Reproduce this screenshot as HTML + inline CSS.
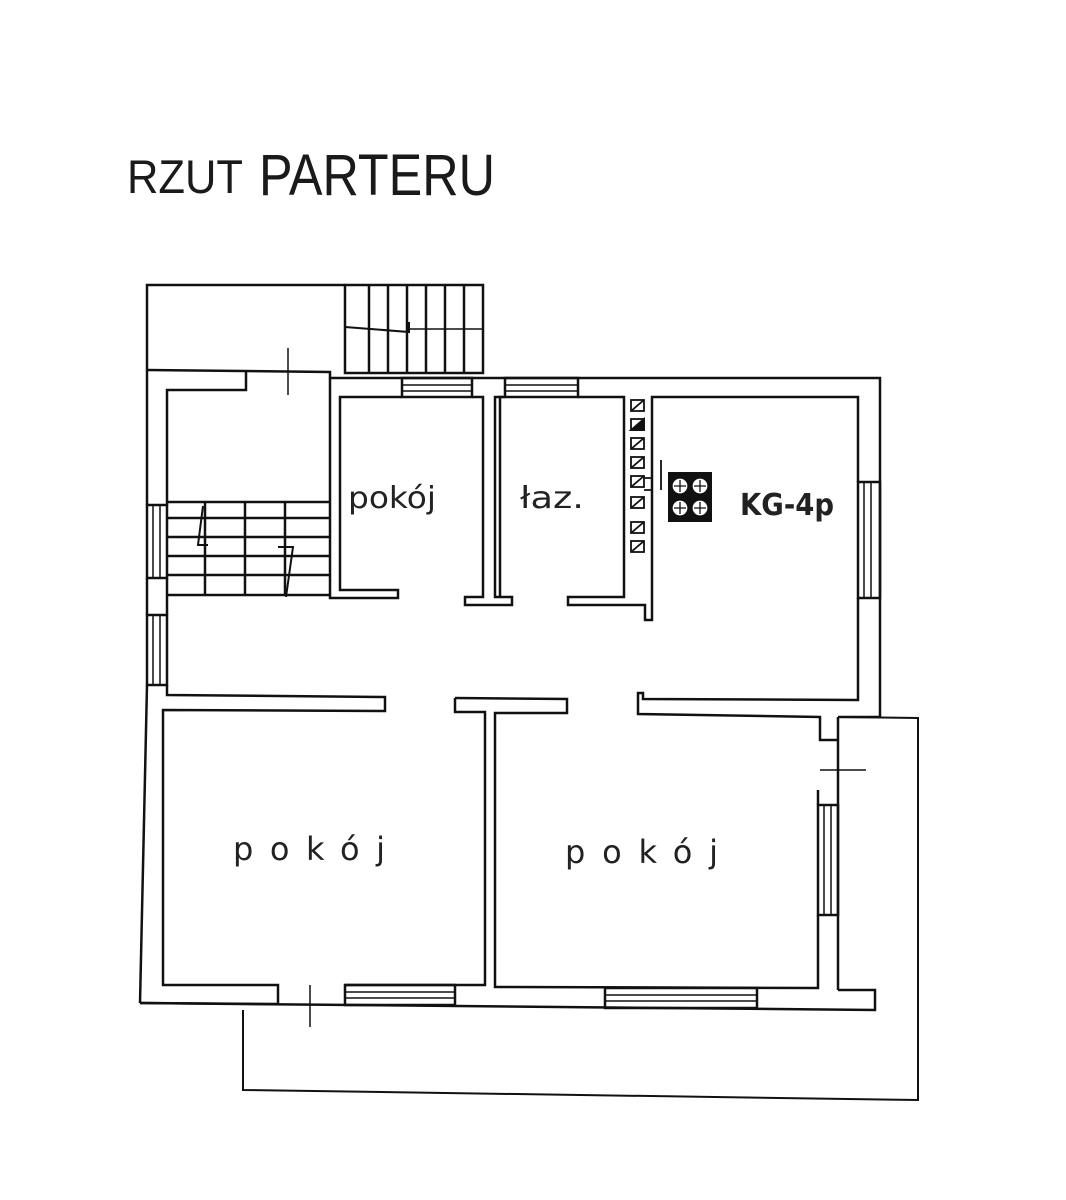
<!DOCTYPE html>
<html><head><meta charset="utf-8"><style>
html,body{margin:0;padding:0;background:#fff;}
svg{display:block}
</style></head><body>
<svg width="1066" height="1200" viewBox="0 0 1066 1200" xmlns="http://www.w3.org/2000/svg">
<rect width="1066" height="1200" fill="#fff"/>
<g font-family="Liberation Sans, sans-serif" fill="#1a1a1a">
<text x="127" y="193" font-size="47" textLength="116" lengthAdjust="spacingAndGlyphs">RZUT</text>
<text x="259" y="195" font-size="58" textLength="236" lengthAdjust="spacingAndGlyphs">PARTERU</text>
</g>
<g fill="none" stroke="#111" stroke-width="2.5" stroke-linejoin="miter">
<!-- terrace top left -->
<polyline points="147,370 147,285 345,285"/>
<!-- entrance stairs -->
<rect x="345" y="285" width="138" height="88"/>
<line x1="369" y1="285" x2="369" y2="373"/><line x1="388" y1="285" x2="388" y2="373"/>
<line x1="407" y1="285" x2="407" y2="373"/><line x1="426" y1="285" x2="426" y2="373"/>
<line x1="445" y1="285" x2="445" y2="373"/><line x1="464" y1="285" x2="464" y2="373"/>
<polyline points="345,327 409,332 409,322" stroke-width="2"/>
<line x1="409" y1="329" x2="483" y2="329" stroke-width="1.5"/>
<!-- outer walls -->
<polyline points="147,370 330,372 330,378 880,378 880,717"/>
<line x1="147" y1="370" x2="147" y2="505"/>
<line x1="147" y1="578" x2="147" y2="615"/>
<line x1="147" y1="685" x2="140" y2="1003"/>
<polyline points="140,1003 278,1004"/>
<line x1="288" y1="348" x2="288" y2="395" stroke-width="1.5"/>
<!-- hall inner -->
<polyline points="246,372 246,390 167,390 167,505"/>
<line x1="167" y1="578" x2="167" y2="615"/>
<polyline points="167,685 167,695 385,697 385,711 163,710 163,985 278,985 278,1004"/>
<!-- left windows -->
<rect x="147" y="505" width="20" height="73"/>
<line x1="153" y1="505" x2="153" y2="578" stroke-width="1.5"/><line x1="160" y1="505" x2="160" y2="578" stroke-width="1.5"/>
<rect x="147" y="615" width="20" height="70"/>
<line x1="153" y1="615" x2="153" y2="685" stroke-width="1.5"/><line x1="160" y1="615" x2="160" y2="685" stroke-width="1.5"/>
<!-- interior stair -->
<line x1="167" y1="502" x2="330" y2="502"/>
<line x1="167" y1="518" x2="330" y2="518"/><line x1="167" y1="537" x2="330" y2="537"/>
<line x1="167" y1="556" x2="330" y2="556"/><line x1="167" y1="575" x2="330" y2="575"/>
<line x1="167" y1="595" x2="330" y2="595"/>
<line x1="205" y1="502" x2="205" y2="595"/><line x1="245" y1="502" x2="245" y2="595"/><line x1="285" y1="502" x2="285" y2="595"/>
<polyline points="203,506 198,545 208,545" stroke-width="2"/>
<polyline points="278,547 293,547 286,597" stroke-width="2"/>
<!-- small pokoj -->
<polyline points="330,378 330,598 398,598 398,590 340,590 340,397 402,397"/>
<rect x="402" y="378" width="70" height="19"/>
<line x1="402" y1="385" x2="472" y2="385" stroke-width="1.5"/><line x1="402" y1="391" x2="472" y2="391" stroke-width="1.5"/>
<polyline points="472,397 483,397 483,597 465,597 465,605 512,605 512,597 495,597 495,397 503,397"/>
<rect x="505" y="378" width="73" height="19"/>
<line x1="505" y1="385" x2="578" y2="385" stroke-width="1.5"/><line x1="505" y1="391" x2="578" y2="391" stroke-width="1.5"/>
<polyline points="505,397 500,397 500,597"/>
<!-- laz right -->
<polyline points="578,397 624,397 624,597 568,597 568,605 645,605 645,620 652,620 652,397 858,397 858,482"/>
<!-- chimneys -->
<g stroke-width="1.8">
<rect x="631" y="400" width="13" height="11"/><line x1="631" y1="411" x2="644" y2="400"/>
<rect x="631" y="419" width="13" height="11"/><path d="M631,430 L644,419 L644,430 Z" fill="#111"/>
<rect x="631" y="438" width="13" height="11"/><line x1="631" y1="449" x2="644" y2="438"/>
<rect x="631" y="457" width="13" height="11"/><line x1="631" y1="468" x2="644" y2="457"/>
<rect x="631" y="476" width="13" height="11"/><line x1="631" y1="487" x2="644" y2="476"/>
<rect x="631" y="497" width="13" height="11"/><line x1="631" y1="508" x2="644" y2="497"/>
<rect x="631" y="522" width="13" height="11"/><line x1="631" y1="533" x2="644" y2="522"/>
<rect x="631" y="541" width="13" height="11"/><line x1="631" y1="552" x2="644" y2="541"/>
<polyline points="644,478 652,478 652,490 644,490"/>
<line x1="661" y1="460" x2="661" y2="490"/>
</g>
<!-- stove -->
<rect x="669" y="473" width="42" height="48" fill="#111" stroke-width="2"/>
<g fill="#fff" stroke="#111" stroke-width="1.3">
<circle cx="680" cy="486" r="8"/><circle cx="700" cy="486" r="8"/>
<circle cx="680" cy="508" r="8"/><circle cx="700" cy="508" r="8"/>
<path d="M680,480v12M674,486h12M700,480v12M694,486h12M680,502v12M674,508h12M700,502v12M694,508h12"/>
</g>
<!-- kitchen right window -->
<rect x="858" y="482" width="22" height="116"/>
<line x1="864" y1="482" x2="864" y2="598" stroke-width="1.5"/><line x1="871" y1="482" x2="871" y2="598" stroke-width="1.5"/>
<polyline points="858,598 858,700 643,699 643,693 638,693 638,714 820,717 820,740 838,740"/>
<line x1="880" y1="717" x2="838" y2="717"/>
<!-- middle T -->
<polyline points="455,698 567,699 567,713 495,713 495,987 818,988 818,915"/>
<polyline points="455,698 455,712 485,712 485,985 345,985"/>
<!-- right wall -->
<line x1="838" y1="717" x2="838" y2="990"/>
<rect x="818" y="805" width="20" height="110"/>
<line x1="824" y1="805" x2="824" y2="915" stroke-width="1.5"/><line x1="831" y1="805" x2="831" y2="915" stroke-width="1.5"/>
<line x1="818" y1="805" x2="818" y2="790"/>
<line x1="820" y1="770" x2="866" y2="770" stroke-width="1.5"/>
<polyline points="838,990 875,990 875,1010 140,1003"/>
<!-- bottom windows -->
<rect x="345" y="985" width="110" height="20"/>
<line x1="345" y1="992" x2="455" y2="992" stroke-width="1.5"/><line x1="345" y1="998" x2="455" y2="998" stroke-width="1.5"/>
<rect x="605" y="988" width="152" height="20"/>
<line x1="605" y1="995" x2="757" y2="995" stroke-width="1.5"/><line x1="605" y1="1001" x2="757" y2="1001" stroke-width="1.5"/>
<line x1="310" y1="985" x2="310" y2="1027" stroke-width="1.5"/>
<!-- terrace -->
<polyline points="843,717 918,718 918,1100 243,1090 243,1010" stroke-width="2"/>
</g>
<g font-family="DejaVu Sans, Liberation Sans, sans-serif" fill="#222">
<text x="348" y="508" font-size="30" textLength="88" lengthAdjust="spacingAndGlyphs">pokój</text>
<text x="520" y="508" font-size="30" textLength="64" lengthAdjust="spacingAndGlyphs">łaz.</text>
<text x="233" y="860" font-size="32" textLength="152" lengthAdjust="spacing">pokój</text>
<text x="565" y="863" font-size="32" textLength="153" lengthAdjust="spacing">pokój</text>
<text x="740" y="515" font-size="30" font-weight="bold" textLength="94" lengthAdjust="spacingAndGlyphs">KG-4p</text>
</g>
</svg>
</body></html>
